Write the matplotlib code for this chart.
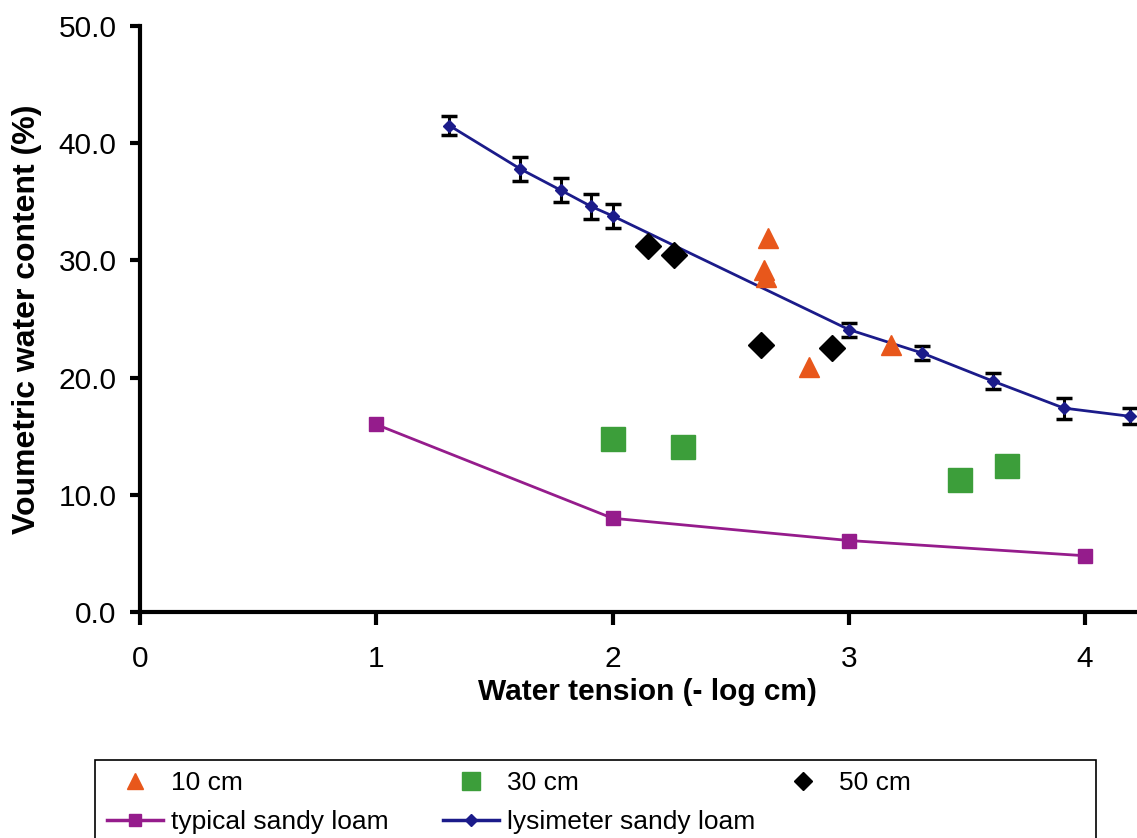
import numpy as np
import matplotlib.pyplot as plt
from matplotlib.lines import Line2D
from matplotlib.patches import Rectangle

plt.rcParams['font.family'] = ['Liberation Sans', 'DejaVu Sans']

# lysimeter sandy loam (mean with error bars)
lys_x = [1.31, 1.61, 1.78, 1.91, 2.00, 3.00, 3.31, 3.61, 3.91, 4.19]
lys_y = [41.5, 37.8, 36.0, 34.6, 33.8, 24.1, 22.1, 19.7, 17.4, 16.7]
lys_err = [0.8, 1.0, 1.0, 1.05, 1.0, 0.6, 0.6, 0.7, 0.9, 0.7]

# typical sandy loam
typ_x = [1, 2, 3, 4]
typ_y = [16.0, 8.0, 6.1, 4.8]

# field samples by depth
cm10_x = [2.66, 2.64, 2.65, 2.83, 3.18]
cm10_y = [31.9, 29.2, 28.6, 20.9, 22.8]
cm30_x = [2.00, 2.30, 3.47, 3.67]
cm30_y = [14.8, 14.1, 11.3, 12.5]
cm50_x = [2.15, 2.26, 2.63, 2.93]
cm50_y = [31.2, 30.5, 22.8, 22.5]

orange = '#E8571B'
green = '#3C9E3A'
purple = '#951C8C'
navy = '#1B1B8A'

fig = plt.figure(figsize=(11.37, 8.38), dpi=100)
ax = fig.add_axes([140/1137, 1 - 612/838, 1 - 140/1137, (612 - 26)/838])

ax.plot(typ_x, typ_y, color=purple, lw=2, marker='s', ms=10, zorder=3)
ax.errorbar(lys_x, lys_y, yerr=lys_err, color=navy, lw=2, marker='D', ms=6.5,
            ecolor='black', elinewidth=2.2, capsize=6, capthick=2.5, zorder=4)
ax.plot(cm10_x, cm10_y, ls='none', marker='^', ms=15, color=orange, zorder=5)
ax.plot(cm30_x, cm30_y, ls='none', marker='s', ms=17, color=green, zorder=5)
ax.plot(cm50_x, cm50_y, ls='none', marker='D', ms=13, color='black', zorder=5)

ax.set_xlim(0, 4.22)
ax.set_ylim(0, 50)
ax.set_xticks([0, 1, 2, 3, 4])
ax.set_yticks(np.arange(0, 51, 10))
ax.set_yticklabels(['%.1f' % v for v in np.arange(0, 51, 10)])
ax.tick_params(labelsize=21.5, width=3, direction='out')
ax.tick_params(axis='x', length=9, pad=15)
ax.tick_params(axis='y', length=7, pad=10)
ax.spines['top'].set_visible(False)
ax.spines['right'].set_visible(False)
ax.spines['left'].set_linewidth(3)
ax.spines['bottom'].set_linewidth(3)
ax.set_xlabel('Water tension (- log cm)', fontsize=21.5, fontweight='bold')
ax.set_ylabel('Voumetric water content (%)', fontsize=23, fontweight='bold')
ax.xaxis.set_label_coords(0.509, -0.112)
ax.yaxis.set_label_coords(-0.098, 0.5)

# legend: three evenly spaced columns inside one frame
h10 = Line2D([], [], ls='none', marker='^', ms=11, color=orange)
h30 = Line2D([], [], ls='none', marker='s', ms=13, color=green)
h50 = Line2D([], [], ls='none', marker='D', ms=9, color='black')
htyp = Line2D([], [], color=purple, lw=2.5, marker='s', ms=9)
hlys = Line2D([], [], color=navy, lw=2.5, marker='D', ms=6)

fig.patches.append(Rectangle((95/1137, -0.01), (1096 - 95)/1137, 0.01 + (838 - 760)/838,
                             transform=fig.transFigure, fill=False, ec='black', lw=1.2))
cols = [([h10, htyp], ['10 cm', 'typical sandy loam'], 102),
        ([h30, hlys], ['30 cm', 'lysimeter sandy loam'], 438),
        ([h50], ['50 cm'], 770)]
for hs, ls, px in cols:
    fig.legend(hs, ls, loc='upper left', bbox_to_anchor=(px/1137, 1 - 766/838),
               frameon=False, fontsize=19, handlelength=2.1, handletextpad=0.3,
               labelspacing=0.55, borderpad=0.2, borderaxespad=0)

fig.savefig('out.png', dpi=100)
